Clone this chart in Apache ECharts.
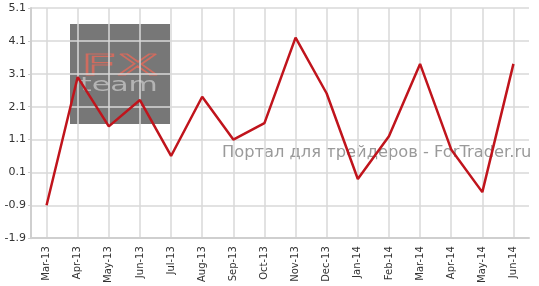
<!DOCTYPE html>
<html><head><meta charset="utf-8">
<script src="https://cdn.jsdelivr.net/npm/echarts@6/dist/echarts.min.js"></script>
<style>html,body{margin:0;padding:0;background:#fff}#c{width:539px;height:286px}</style>
</head><body><div id="c"></div>
<script>
const categories = ["Mar-13","Apr-13","May-13","Jun-13","Jul-13","Aug-13","Sep-13","Oct-13","Nov-13","Dec-13","Jan-14","Feb-14","Mar-14","Apr-14","May-14","Jun-14"];
const values = [-0.9, 3.0, 1.5, 2.3, 0.6, 2.4, 1.1, 1.6, 4.2, 2.5, -0.1, 1.2, 3.4, 0.8, -0.5, 3.4];
const yMin = -1.9, yMax = 5.1, yStep = 1;
const watermark = "Портал для трейдеров - ForTrader.ru";

const chart = echarts.init(document.getElementById('c'), null, {renderer:'canvas'});
chart.setOption({
  animation:false,
  grid:{left:31, right:10, top:8, bottom:44},
  xAxis:{
    type:'category', data:categories, boundaryGap:true,
    axisLine:{onZero:false, lineStyle:{color:'#cfcfcf', width:2}},
    axisTick:{show:false},
    axisLabel:{rotate:90, fontFamily:'DejaVu Sans', fontSize:10, color:'#333', margin:8},
    splitLine:{show:true, alignWithLabel:true, interval:0, lineStyle:{color:'#d9d9d9', width:1.5}}
  },
  yAxis:{
    type:'value', min:yMin, max:yMax, interval:yStep,
    axisLine:{show:true, lineStyle:{color:'#cfcfcf', width:2}},
    axisTick:{show:true, length:3, lineStyle:{color:'#cfcfcf'}},
    axisLabel:{fontFamily:'DejaVu Sans', fontSize:11, color:'#333', margin:5,
      formatter:v=>(Math.round(v*10)/10).toFixed(1)},
    splitLine:{lineStyle:{color:'#d9d9d9', width:1.5}}
  },
  graphic:[
    {type:'rect', z:-1, shape:{x:70,y:24,width:100,height:100}, style:{fill:'#777777'}},
    {type:'text', z:-1, x:81, y:54, scaleX:2.2, scaleY:1, style:{text:'FX', font:'normal 28px "DejaVu Sans"', fill:'none', stroke:'#cf6c5f', lineWidth:1.2}},
    {type:'text', z:-1, x:80, y:76, scaleX:1.5, scaleY:1, style:{text:'team', font:'normal 20px "DejaVu Sans"', fill:'#b4b4b4'}},
    {type:'text', z:-1, x:222, y:145, style:{text:watermark, font:'normal 16.3px "DejaVu Sans"', fill:'#9a9a9a'}}
  ],
  series:[{
    type:'line', data:values, symbol:'none', z:5,
    lineStyle:{color:'#c0141c', width:2.5}
  }]
});
</script></body></html>
